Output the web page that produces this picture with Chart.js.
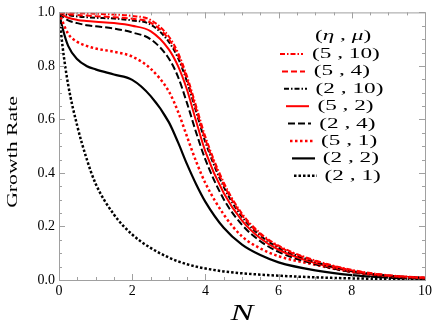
<!DOCTYPE html>
<html>
<head>
<meta charset="utf-8">
<script src="https://cdn.jsdelivr.net/npm/chart.js@4.4.0/dist/chart.umd.min.js"></script>
<style>
  html, body { margin: 0; padding: 0; background: #fff; }
  #wrap { width: 436px; height: 327px; }
</style>
</head>
<body>
<div id="wrap"><canvas id="chart"></canvas></div>
<script>
// sample points along N (x axis)
const nValues = [0, 0.1, 0.25, 0.5, 0.75, 1, 1.5, 2, 2.5, 3, 3.25, 3.5, 3.75, 4, 4.5, 5, 5.5, 6, 7, 8, 9, 10];

// legend labels (eta, mu)
const seriesLabels = ['(5 , 10)', '(5 , 4)', '(2 , 10)', '(5 , 2)', '(2 , 4)', '(5 , 1)', '(2 , 2)', '(2 , 1)'];

// growth rate values
const rate5_10 = [1, 0.999, 0.998, 0.997, 0.996, 0.995, 0.992, 0.987, 0.972, 0.91, 0.85, 0.76, 0.648, 0.535, 0.365, 0.248, 0.175, 0.128, 0.073, 0.038, 0.018, 0.009];
const rate5_4  = [1, 0.997, 0.993, 0.99, 0.988, 0.986, 0.982, 0.976, 0.962, 0.9, 0.84, 0.75, 0.638, 0.525, 0.357, 0.242, 0.171, 0.125, 0.071, 0.036, 0.017, 0.008];
const rate2_10 = [1, 0.995, 0.99, 0.985, 0.982, 0.98, 0.977, 0.97, 0.955, 0.89, 0.83, 0.74, 0.628, 0.515, 0.348, 0.236, 0.166, 0.121, 0.068, 0.034, 0.016, 0.008];
const rate5_2  = [1, 0.99, 0.98, 0.972, 0.968, 0.965, 0.96, 0.95, 0.93, 0.862, 0.8, 0.71, 0.592, 0.48, 0.325, 0.222, 0.156, 0.113, 0.063, 0.032, 0.015, 0.007];
const rate2_4  = [1, 0.985, 0.97, 0.96, 0.952, 0.948, 0.94, 0.925, 0.9, 0.828, 0.76, 0.66, 0.55, 0.45, 0.302, 0.206, 0.145, 0.105, 0.059, 0.03, 0.014, 0.007];
const rate5_1  = [1, 0.965, 0.92, 0.89, 0.875, 0.865, 0.853, 0.835, 0.79, 0.705, 0.63, 0.535, 0.442, 0.362, 0.245, 0.163, 0.118, 0.089, 0.057, 0.03, 0.015, 0.007];
const rate2_2  = [1, 0.94, 0.875, 0.825, 0.8, 0.787, 0.768, 0.748, 0.688, 0.59, 0.515, 0.432, 0.357, 0.292, 0.195, 0.132, 0.093, 0.066, 0.036, 0.018, 0.009, 0.004];
const rate2_1  = [1, 0.87, 0.73, 0.575, 0.455, 0.36, 0.245, 0.17, 0.12, 0.084, 0.07, 0.059, 0.05, 0.043, 0.032, 0.025, 0.02, 0.016, 0.01, 0.006, 0.004, 0.002];

const allRates = [rate5_10, rate5_4, rate2_10, rate5_2, rate2_4, rate5_1, rate2_2, rate2_1];
const colors = ['#ff0000', '#ff0000', '#000000', '#ff0000', '#000000', '#ff0000', '#000000', '#000000'];
const dashes = [[5, 2, 1.5, 2], [6, 3], [5, 2, 1.5, 2], [], [7, 3], [2.5, 2.5], [], [2.5, 2]];
const widths = [2, 2, 2, 2, 2, 2.5, 2.2, 2.5];

const serif = '"Times New Roman", "Liberation Serif", serif';

const datasets = allRates.map((rates, i) => ({
    label: seriesLabels[i],
    data: nValues.map((n, j) => ({ x: n, y: rates[j] })),
    borderColor: colors[i],
    borderDash: dashes[i],
    borderWidth: widths[i],
    pointRadius: 0,
    fill: false,
    cubicInterpolationMode: 'monotone',
}));

// stretched text helper (the original has wide glyphs)
function wideText(ctx, text, x, y, sx) {
    ctx.save();
    ctx.translate(x, y);
    ctx.scale(sx, 1);
    ctx.fillText(text, 0, 0);
    ctx.restore();
}

// frame with inward ticks, axis titles and legend
const framePlugin = {
    id: 'frame',
    afterDraw(chart) {
        const { ctx, chartArea: a, scales: { x, y } } = chart;
        ctx.save();
        ctx.strokeStyle = '#a0a0a0';
        ctx.lineWidth = 1;
        ctx.strokeRect(a.left + 0.5, a.top + 0.5, a.right - a.left, a.bottom - a.top);
        ctx.beginPath();
        for (let k = 0; k <= 20; k++) {
            const px = Math.round(x.getPixelForValue(k * 0.5)) + 0.5;
            const len = k % 4 === 0 ? 6 : 3;
            ctx.moveTo(px, a.bottom); ctx.lineTo(px, a.bottom - len);
            ctx.moveTo(px, a.top); ctx.lineTo(px, a.top + len);
        }
        for (let k = 0; k <= 20; k++) {
            const py = Math.round(y.getPixelForValue(k * 0.05)) + 0.5;
            const len = k % 4 === 0 ? 6 : 3;
            ctx.moveTo(a.left, py); ctx.lineTo(a.left + len, py);
            ctx.moveTo(a.right, py); ctx.lineTo(a.right - len, py);
        }
        ctx.stroke();

        // axis titles
        ctx.fillStyle = '#000';
        ctx.textBaseline = 'alphabetic';
        ctx.textAlign = 'center';
        ctx.font = 'italic 23px ' + serif;
        wideText(ctx, 'N', (a.left + a.right) / 2, 320, 1.5);
        ctx.save();
        ctx.translate(17, 152);
        ctx.rotate(-Math.PI / 2);
        ctx.font = '15px ' + serif;
        wideText(ctx, 'Growth Rate', 0, 0, 1.45);
        ctx.restore();

        // legend title (eta , mu)
        ctx.textAlign = 'left';
        ctx.textBaseline = 'middle';
        const parts = [['(', ''], ['η', 'italic '], [' , ', ''], ['μ', 'italic '], [')', '']];
        let tx = 315;
        parts.forEach(([t, st]) => {
            ctx.font = st + '15px ' + serif;
            wideText(ctx, t, tx, 36, 1.55);
            tx += ctx.measureText(t).width * 1.55;
        });

        // legend entries
        chart.data.datasets.forEach((ds, i) => {
            const ly = 54 + i * 17.4;
            const lx = 280 + i * 2;
            ctx.strokeStyle = ds.borderColor;
            ctx.lineWidth = ds.borderWidth;
            ctx.setLineDash(ds.borderDash);
            ctx.beginPath();
            ctx.moveTo(lx, ly); ctx.lineTo(lx + 23, ly);
            ctx.stroke();
            ctx.setLineDash([]);
            ctx.font = '15px ' + serif;
            wideText(ctx, ds.label, 312 + i * 1.8, ly, 1.55);
        });
        ctx.restore();
    }
};

new Chart(document.getElementById('chart'), {
    type: 'line',
    data: { datasets },
    plugins: [framePlugin],
    options: {
        responsive: true,
        maintainAspectRatio: false,
        animation: false,
        layout: { padding: { top: 8, right: 11, left: 0, bottom: 0 } },
        plugins: { legend: { display: false }, tooltip: { enabled: false } },
        scales: {
            x: {
                type: 'linear',
                min: 0,
                max: 10,
                grid: { display: false, drawTicks: false },
                border: { display: false },
                ticks: { stepSize: 2, color: '#000', padding: 3, maxRotation: 0, font: { family: serif, size: 14 } },
                afterFit(s) { s.height = 47; },
            },
            y: {
                min: 0,
                max: 1,
                grid: { display: false, drawTicks: false },
                border: { display: false },
                ticks: { stepSize: 0.2, color: '#000', padding: 4, font: { family: serif, size: 14 },
                    callback: v => v.toFixed(1) },
                afterFit(s) { s.width = 59; },
            },
        },
    },
});
</script>
</body>
</html>
